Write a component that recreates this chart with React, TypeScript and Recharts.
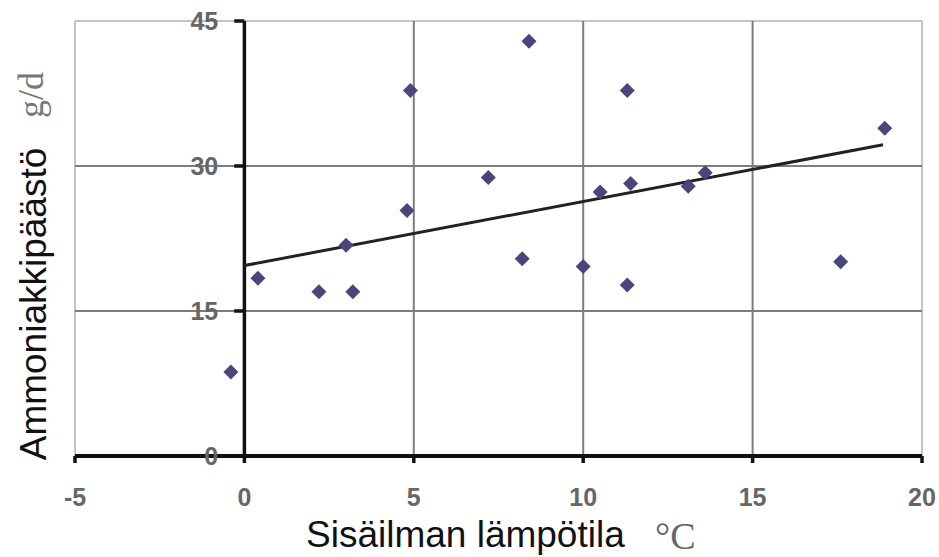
import React from "react";
import {
  ScatterChart,
  Scatter,
  XAxis,
  YAxis,
  ReferenceLine,
} from "recharts";

// indoor temperature (°C) vs ammonia emission (g/d)
const tempC = [-0.4, 0.4, 2.2, 3.2, 3.0, 4.8, 4.9, 7.2, 8.4, 8.2, 10.0, 11.3, 10.5, 11.4, 11.3, 13.1, 13.6, 17.6, 18.9];
const ammonia = [8.7, 18.4, 17.0, 17.0, 21.8, 25.4, 37.8, 28.8, 42.9, 20.4, 19.6, 37.8, 27.3, 28.2, 17.7, 27.9, 29.3, 20.1, 33.9];

// linear trend, start and end
const trendX = [0, 18.85];
const trendY = [19.7, 32.2];

const xTicks = [-5, 0, 5, 10, 15, 20];
const yTicks = [0, 15, 30, 45];
const innerX = [5, 10, 15];
const innerY = [15, 30];

const points = tempC.map((x, i) => ({ x, y: ammonia[i] }));
const trend = trendX.map((x, i) => ({ x, y: trendY[i] }));

const SANS = "'Liberation Sans', Arial, sans-serif";
const SERIF = "'Liberation Serif', 'Times New Roman', serif";
const TICK_STYLE = { fill: "#666", fontSize: 25, fontWeight: 700, fontFamily: SANS };

const Diamond = (props: any) => {
  const { cx, cy } = props;
  if (cx == null || cy == null) return <g />;
  const r = 7.5;
  return (
    <polygon
      points={`${cx},${cy - r} ${cx + r},${cy} ${cx},${cy + r} ${cx - r},${cy}`}
      fill="#48467a"
    />
  );
};

const NoDot = () => <g />;

export default function App() {
  return (
    <div style={{ position: "absolute", left: 0, top: 0, width: 939, height: 557, background: "#fff" }}>
      <ScatterChart
        width={939}
        height={557}
        margin={{ top: 21, right: 17, bottom: 61, left: 75 }}
      >
        <XAxis
          type="number"
          dataKey="x"
          domain={[-5, 20]}
          ticks={xTicks}
          interval={0}
          height={40}
          axisLine={{ stroke: "#111", strokeWidth: 4 }}
          tickLine={{ stroke: "#111", strokeWidth: 3.5 }}
          tickSize={7}
          tickMargin={25}
          tick={TICK_STYLE}
        />
        <YAxis type="number" dataKey="y" domain={[0, 45]} hide />

        {/* plot border */}
        <ReferenceLine x={-5} stroke="#c4c4c4" strokeWidth={2} />
        <ReferenceLine x={20} stroke="#c4c4c4" strokeWidth={2} />
        <ReferenceLine y={45} stroke="#c4c4c4" strokeWidth={2} />

        {innerX.map((v) => (
          <ReferenceLine key={`gx${v}`} x={v} stroke="#7d7d7d" strokeWidth={2} />
        ))}
        {innerY.map((v) => (
          <ReferenceLine key={`gy${v}`} y={v} stroke="#7d7d7d" strokeWidth={2} />
        ))}

        {/* y axis at x = 0 */}
        <ReferenceLine x={0} stroke="#111" strokeWidth={3.5} />
        {yTicks.map((v) => (
          <ReferenceLine
            key={`yt${v}`}
            segment={[{ x: -0.3, y: v }, { x: 0, y: v }]}
            stroke="#111"
            strokeWidth={3.5}
            label={{ value: String(v), position: "left", offset: 16, ...TICK_STYLE }}
          />
        ))}

        <Scatter
          data={trend}
          line={{ stroke: "#222", strokeWidth: 3 }}
          shape={NoDot}
          isAnimationActive={false}
        />
        <Scatter data={points} shape={Diamond} isAnimationActive={false} />
      </ScatterChart>

      <svg
        width={939}
        height={557}
        style={{ position: "absolute", left: 0, top: 0, pointerEvents: "none" }}
      >
        <text x={306} y={547} fontSize={37} fontFamily={SANS} fill="#111">
          Sisäilman lämpötila
        </text>
        <text x={655} y={549} fontSize={38} fontFamily={SERIF} fill="#666">
          °C
        </text>
        <text
          transform="translate(46,304) rotate(-90)"
          textAnchor="middle"
          fontSize={37}
          fontFamily={SANS}
          fill="#111"
        >
          Ammoniakkipäästö
        </text>
        <text
          transform="translate(43,95) rotate(-90)"
          textAnchor="middle"
          fontSize={36}
          fontFamily={SERIF}
          fill="#777"
        >
          g/d
        </text>
      </svg>
    </div>
  );
}
